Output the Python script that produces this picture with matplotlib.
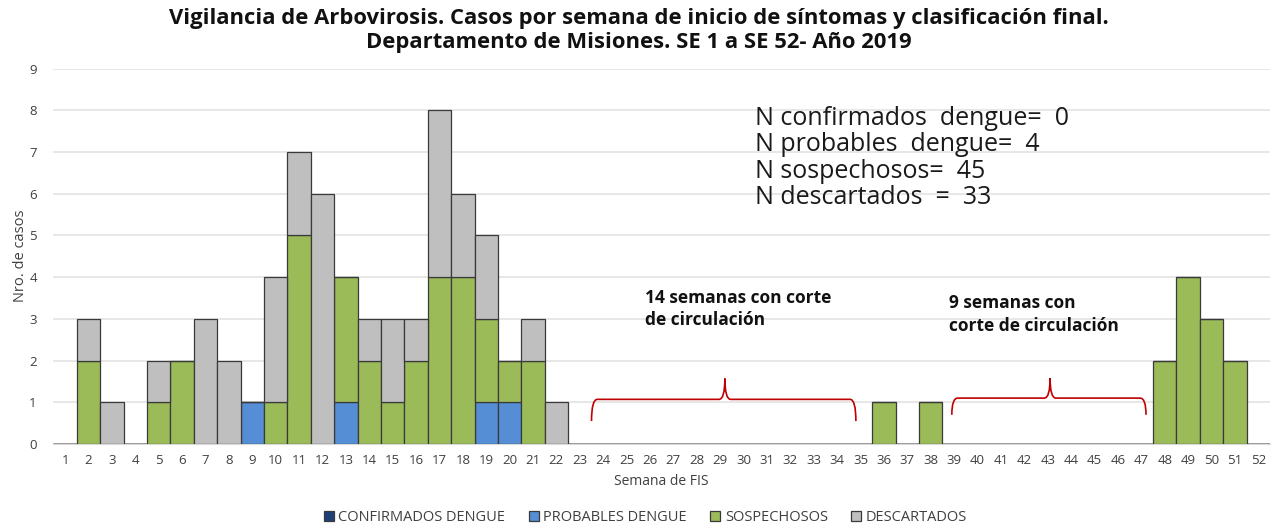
import matplotlib
matplotlib.use("Agg")
import matplotlib.pyplot as plt
from matplotlib.path import Path
from matplotlib.patches import PathPatch, Rectangle
import numpy as np

plt.rcParams['font.family'] = ['Open Sans', 'DejaVu Sans']

weeks = list(range(1, 53))
confirmados = [0] * 52
probables = [0, 0, 0, 0, 0, 0, 0, 0, 1, 0, 0, 0, 1, 0, 0, 0, 0, 0, 1, 1, 0, 0,
             0, 0, 0, 0, 0, 0, 0, 0, 0, 0, 0, 0, 0, 0, 0, 0, 0, 0, 0, 0, 0, 0,
             0, 0, 0, 0, 0, 0, 0, 0]
sospechosos = [0, 2, 0, 0, 1, 2, 0, 0, 0, 1, 5, 0, 3, 2, 1, 2, 4, 4, 2, 1, 2, 0,
               0, 0, 0, 0, 0, 0, 0, 0, 0, 0, 0, 0, 0, 1, 0, 1, 0, 0, 0, 0, 0, 0,
               0, 0, 0, 2, 4, 3, 2, 0]
descartados = [0, 1, 1, 0, 1, 0, 3, 2, 0, 3, 2, 6, 0, 1, 2, 1, 4, 2, 2, 0, 1, 1,
               0, 0, 0, 0, 0, 0, 0, 0, 0, 0, 0, 0, 0, 0, 0, 0, 0, 0, 0, 0, 0, 0,
               0, 0, 0, 0, 0, 0, 0, 0]

series = [
    ("CONFIRMADOS DENGUE", confirmados, "#1f3f77"),
    ("PROBABLES DENGUE", probables, "#558ed5"),
    ("SOSPECHOSOS", sospechosos, "#9bbb59"),
    ("DESCARTADOS", descartados, "#bfbfbf"),
]

fig = plt.figure(figsize=(12.73, 5.27), dpi=100)
ax = fig.add_axes([53.4 / 1273, 1 - 444 / 527, (1270 - 53.4) / 1273, (444 - 68.5) / 527])

x = np.arange(len(weeks))
bottom = np.zeros(len(weeks))
for name, vals, col in series:
    v = np.array(vals, dtype=float)
    ax.bar(x, v, width=1.0, bottom=bottom, color=col, edgecolor="#3a3a3a",
           linewidth=0.9, label=name, zorder=3)
    bottom += v

ax.set_xlim(-0.5, len(weeks) - 0.5)
ax.set_ylim(0, 9)
ax.set_yticks(range(0, 10))
ax.set_xticks(x)
ax.set_xticklabels([str(w) for w in weeks])
ax.grid(axis="y", color="#e3e3e3", linewidth=1.2, zorder=0)
for s in ["top", "right", "left"]:
    ax.spines[s].set_visible(False)
ax.spines["bottom"].set_color("#d9d9d9")
ax.tick_params(axis="both", length=0, labelsize=9.5, colors="#404040")
ax.tick_params(axis="x", pad=7)
ax.tick_params(axis="y", pad=12)
ax.set_xlabel("Semana de FIS", fontsize=10, color="#404040", labelpad=5)
ax.set_ylabel("Nro. de casos", fontsize=10.5, color="#404040", labelpad=1)

fig.text(0.502, 0.965, "Vigilancia de Arbovirosis. Casos por semana de inicio de síntomas y clasificación final.",
         ha="center", va="center", fontsize=15.8, fontweight="bold", color="#111111")
fig.text(0.502, 0.919, "Departamento de Misiones. SE 1 a SE 52- Año 2019",
         ha="center", va="center", fontsize=15.8, fontweight="bold", color="#111111")

# summary text
ax.text(29.5, 6.86, "N confirmados  dengue=  0\nN probables  dengue=  4\nN sospechosos=  45\nN descartados  =  33",
        ha="left", va="center", fontsize=18, color="#1a1a1a", linespacing=1.08, zorder=5)

# annotations
ax.add_patch(Rectangle((23.85, 1.73), 10.1, 2.6, facecolor="white", edgecolor="none", zorder=1))
ax.text(24.8, 3.23, "14 semanas con corte\nde circulación", ha="left", va="center",
        fontsize=12.5, fontweight="bold", color="#111111", linespacing=1.3, zorder=5)
ax.text(37.8, 3.1, "9 semanas con\ncorte de circulación", ha="left", va="center",
        fontsize=12.5, fontweight="bold", color="#111111", linespacing=1.4, zorder=5)

def brace(x0, x1, xm, ylow, ymid, ytop):
    c = 0.25
    verts = [(x0, ylow), (x0, ymid), (x0 + c, ymid), (xm - c, ymid), (xm, ymid), (xm, ytop),
             (xm, ymid), (xm + c, ymid), (x1 - c, ymid), (x1, ymid), (x1, ylow)]
    codes = [Path.MOVETO, Path.CURVE3, Path.CURVE3, Path.LINETO, Path.CURVE3, Path.CURVE3,
             Path.CURVE3, Path.CURVE3, Path.LINETO, Path.CURVE3, Path.CURVE3]
    ax.add_patch(PathPatch(Path(verts, codes), facecolor="none", edgecolor="#c00000",
                           linewidth=1.2, zorder=6))

brace(22.5, 33.8, 28.2, 0.55, 1.07, 1.57)
brace(37.9, 46.2, 42.1, 0.7, 1.1, 1.58)

leg = fig.legend(loc="center", bbox_to_anchor=(0.507, 0.018), ncol=4, frameon=False,
                 fontsize=10.5, handlelength=0.7, handleheight=0.7, handletextpad=0.3,
                 columnspacing=1.6)
for t in leg.get_texts():
    t.set_color("#404040")

fig.savefig("out.png", dpi=100)
